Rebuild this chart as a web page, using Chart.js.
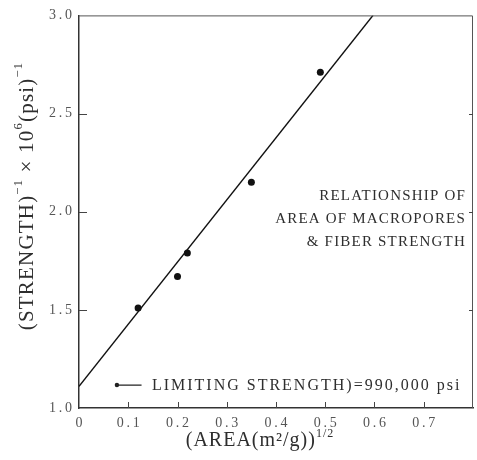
<!DOCTYPE html>
<html>
<head>
<meta charset="utf-8">
<script src="https://cdn.jsdelivr.net/npm/chart.js@4.4.1/dist/chart.umd.min.js"></script>
<style>
  html, body { margin: 0; padding: 0; background: #fff; }
  #wrap { width: 477px; height: 460px; }
</style>
</head>
<body>
<div id="wrap"><canvas id="chart" width="477" height="460"></canvas></div>
<script>
// Данные
const areaRoot = [0.12, 0.20, 0.22, 0.35, 0.49];
const invStrength = [1.51, 1.67, 1.79, 2.15, 2.71];
const fitX = [0, 0.597];
const fitY = [1.11, 3.0];
const limitX = [0.077, 0.127];
const limitY = [1.117, 1.117];
const xTicks = [0, 0.1, 0.2, 0.3, 0.4, 0.5, 0.6, 0.7];
const yTicks = [1.0, 1.5, 2.0, 2.5, 3.0];
const noteLines = ['RELATIONSHIP OF', 'AREA OF MACROPORES', '& FIBER STRENGTH'];
const limitText = 'LIMITING STRENGTH)=990,000 psi';

const SERIF = "'Liberation Serif', 'DejaVu Serif', serif";
const INK = '#2e2e2e';

function toPoints(xs, ys) {
  return xs.map((x, i) => ({x: x, y: ys[i]}));
}

function spaced(v) {
  if (v === 0) return '0';
  return v.toFixed(1).replace('.', '\u2009.\u2009');
}

// Текст с верхними индексами
function drawRich(ctx, parts, x, y, size) {
  let total = 0;
  parts.forEach(p => {
    ctx.font = (p.sup ? size * 0.6 : size) + 'px ' + SERIF;
    p.w = ctx.measureText(p.t).width;
    total += p.w;
  });
  let cx = x - total / 2;
  parts.forEach(p => {
    ctx.font = (p.sup ? size * 0.6 : size) + 'px ' + SERIF;
    ctx.fillText(p.t, cx, p.sup ? y - size * 0.38 : y);
    cx += p.w;
  });
}

const decorPlugin = {
  id: 'decor',
  afterDraw(chart) {
    const ctx = chart.ctx;
    const a = chart.chartArea;
    const xs = chart.scales.x;
    const ys = chart.scales.y;
    ctx.save();

    // верхняя и правая рамка
    ctx.strokeStyle = '#555';
    ctx.lineWidth = 1;
    ctx.beginPath();
    ctx.moveTo(a.left, a.top + 0.5);
    ctx.lineTo(a.right - 0.5, a.top + 0.5);
    ctx.lineTo(a.right - 0.5, a.bottom);
    ctx.stroke();

    // внутренние засечки
    ctx.strokeStyle = '#444';
    ctx.beginPath();
    yTicks.slice(1, -1).forEach(v => {
      const py = Math.round(ys.getPixelForValue(v)) + 0.5;
      ctx.moveTo(a.left, py);
      ctx.lineTo(a.left + 8, py);
      ctx.moveTo(a.right, py);
      ctx.lineTo(a.right - 4, py);
    });
    xTicks.slice(1).forEach(v => {
      const px = Math.round(xs.getPixelForValue(v)) + 0.5;
      ctx.moveTo(px, a.bottom);
      ctx.lineTo(px, a.bottom - 6);
    });
    ctx.stroke();

    // подписи
    ctx.fillStyle = INK;
    ctx.textBaseline = 'middle';
    ctx.letterSpacing = '1.2px';
    ctx.font = '15px ' + SERIF;
    ctx.textAlign = 'right';
    noteLines.forEach((t, i) => {
      ctx.fillText(t, a.right - 7, ys.getPixelForValue(2.08) + i * 23);
    });
    ctx.textAlign = 'left';
    ctx.letterSpacing = '2px';
    ctx.font = '16px ' + SERIF;
    ctx.fillText(limitText, xs.getPixelForValue(0.148), ys.getPixelForValue(limitY[0]) + 1);

    // заголовки осей
    ctx.letterSpacing = '1px';
    drawRich(ctx, [
      {t: '(AREA(m\u00b2/g))'}, {t: '1/2', sup: true}
    ], (a.left + a.right) / 2 - 16, 441, 20);

    ctx.letterSpacing = '1.2px';
    ctx.translate(27, 196);
    ctx.rotate(-Math.PI / 2);
    drawRich(ctx, [
      {t: '(STRENGTH)'}, {t: '\u22121', sup: true},
      {t: ' \u00d7 10'}, {t: '6', sup: true},
      {t: '(psi)'}, {t: '\u22121', sup: true}
    ], 0, 0, 21);

    ctx.restore();
  }
};

new Chart(document.getElementById('chart'), {
  type: 'scatter',
  data: {
    datasets: [
      {
        label: 'fit',
        data: toPoints(fitX, fitY),
        showLine: true,
        borderColor: '#111',
        borderWidth: 1.5,
        pointRadius: 0,
        order: 2
      },
      {
        label: 'limit',
        data: toPoints(limitX, limitY),
        showLine: true,
        borderColor: '#222',
        borderWidth: 1.2,
        backgroundColor: '#222',
        pointRadius: [2.2, 0],
        pointBorderWidth: 0
      },
      {
        label: 'data',
        data: toPoints(areaRoot, invStrength),
        backgroundColor: '#111',
        borderColor: '#111',
        pointRadius: 3.5,
        pointBorderWidth: 0,
        order: 1
      }
    ]
  },
  options: {
    responsive: false,
    animation: false,
    layout: {padding: {top: 15, right: 3, left: 0, bottom: 0}},
    plugins: {legend: {display: false}, tooltip: {enabled: false}},
    scales: {
      x: {
        type: 'linear',
        min: 0,
        max: 0.8,
        afterBuildTicks: s => { s.ticks = xTicks.map(v => ({value: v})); },
        afterFit: s => { s.height = 52; },
        grid: {display: false, drawTicks: false},
        border: {display: true, color: '#333', width: 1.5},
        ticks: {
          padding: 7,
          color: '#555',
          font: {family: SERIF, size: 14},
          callback: v => spaced(v)
        }
      },
      y: {
        type: 'linear',
        min: 1.0,
        max: 3.0,
        afterBuildTicks: s => { s.ticks = yTicks.map(v => ({value: v})); },
        afterFit: s => { s.width = 79; },
        grid: {display: false, drawTicks: false},
        border: {display: true, color: '#333', width: 1.5},
        ticks: {
          padding: 7,
          color: '#555',
          font: {family: SERIF, size: 14},
          callback: v => spaced(v)
        }
      }
    }
  },
  plugins: [decorPlugin]
});
</script>
</body>
</html>
